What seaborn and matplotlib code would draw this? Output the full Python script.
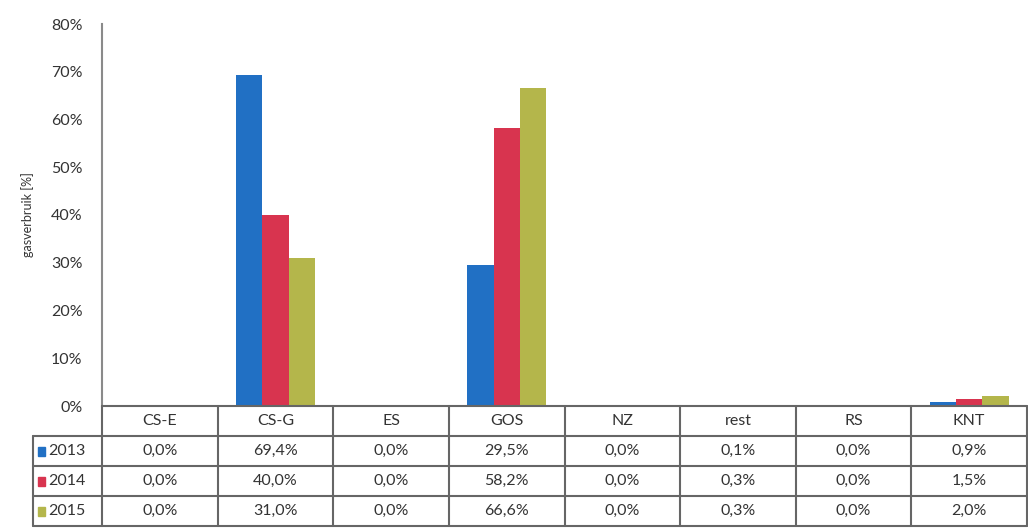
import pandas as pd
import matplotlib
matplotlib.use('Agg')
import matplotlib.pyplot as plt
import seaborn as sns
from matplotlib.patches import Rectangle

# gegevens
categorieen = ['CS-E', 'CS-G', 'ES', 'GOS', 'NZ', 'rest', 'RS', 'KNT']
jaren = ['2013', '2014', '2015']
waarden_2013 = [0.0, 69.4, 0.0, 29.5, 0.0, 0.1, 0.0, 0.9]
waarden_2014 = [0.0, 40.0, 0.0, 58.2, 0.0, 0.3, 0.0, 1.5]
waarden_2015 = [0.0, 31.0, 0.0, 66.6, 0.0, 0.3, 0.0, 2.0]
kleuren = ['#2170C4', '#D8344F', '#B4B64B']

reeksen = [waarden_2013, waarden_2014, waarden_2015]
df = pd.DataFrame({
    'categorie': categorieen * 3,
    'jaar': [j for j in jaren for _ in categorieen],
    'waarde': waarden_2013 + waarden_2014 + waarden_2015,
})

sns.set_style('white')
plt.rcParams['font.family'] = ['Lato', 'DejaVu Sans']

W, H = 1028, 530
fig = plt.figure(figsize=(W / 100, H / 100), dpi=100)

# grafiek
x0, x1, ytop, ybot = 102, 1027, 24, 406
ax = fig.add_axes([x0 / W, 1 - ybot / H, (x1 - x0) / W, (ybot - ytop) / H])
sns.barplot(data=df, x='categorie', y='waarde', hue='jaar', palette=kleuren,
            width=0.68, saturation=1, linewidth=0, legend=False, ax=ax)
ax.set_xlim(-0.5, 7.5)
ax.set_ylim(0, 80)
ax.set_yticks(range(0, 81, 10))
ax.set_yticklabels([f'{v}%' for v in range(0, 81, 10)], fontsize=11.5, color='#333333')
ax.tick_params(axis='y', length=0, pad=14)
ax.set_xticks([])
ax.set_xlabel('')
ax.set_ylabel('gasverbruik [%]', fontsize=9, color='#333333', labelpad=12)
for s in ['top', 'right', 'bottom']:
    ax.spines[s].set_visible(False)
ax.spines['left'].set_color('#8a8a8a')
ax.spines['left'].set_linewidth(1.5)

# tabel onder de grafiek
tx0, tbot = 33, 526
lab_w = (x0 - tx0) / ((x1 - x0) / 8)
tab = fig.add_axes([tx0 / W, 1 - tbot / H, (x1 - tx0) / W, (tbot - ybot) / H])
tab.set_xlim(-0.5 - lab_w, 7.5)
tab.set_ylim(0, 4)
tab.axis('off')
lc = '#666666'
lw = 1.5
# horizontale lijnen
tab.plot([-0.5, 7.5], [4, 4], color=lc, lw=lw, clip_on=False)
for yy in [0, 1, 2, 3]:
    tab.plot([-0.5 - lab_w, 7.5], [yy, yy], color=lc, lw=lw, clip_on=False)
# verticale lijnen
tab.plot([-0.5 - lab_w, -0.5 - lab_w], [0, 3], color=lc, lw=lw, clip_on=False)
for i in range(9):
    tab.plot([i - 0.5, i - 0.5], [0, 4], color=lc, lw=lw, clip_on=False)

for i, c in enumerate(categorieen):
    tab.text(i, 3.5, c, ha='center', va='center', fontsize=11.5, color='#333333')
for r, (jaar, vals, kl) in enumerate(zip(jaren, reeksen, kleuren)):
    yc = 2.5 - r
    tab.add_patch(Rectangle((-0.5 - lab_w + 0.04, yc - 0.15), 0.065, 0.3,
                            color=kl, clip_on=False))
    tab.text(-0.5 - lab_w + 0.13, yc, jaar, ha='left', va='center',
             fontsize=11.5, color='#333333')
    for i, v in enumerate(vals):
        tab.text(i, yc, f'{v:.1f}%'.replace('.', ','), ha='center', va='center',
                 fontsize=11.5, color='#333333')

fig.savefig('out.png', dpi=100)
